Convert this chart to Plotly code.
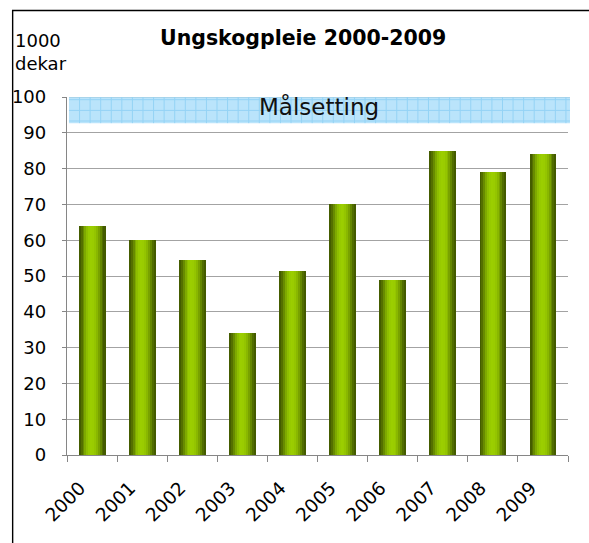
import plotly.graph_objects as go
import numpy as np

years = ["2000", "2001", "2002", "2003", "2004", "2005", "2006", "2007", "2008", "2009"]
values = [64, 60, 54.5, 34, 51.5, 70, 49, 85, 79, 84]
y_ticks = [0, 10, 20, 30, 40, 50, 60, 70, 80, 90, 100]
title_text = "Ungskogpleie 2000-2009"
unit_text = "1000<br>dekar"
target_text = "Målsetting"
target_low, target_high = 92.7, 102.2

W, H = 589, 543
L, R, T, B = 61, 21, 97, 88
PW, PH = W - L - R, H - T - B

def px(x):
    return (x - L) / PW

def py(y):
    return (H - B - y) / PH

def val_at(ypix):
    return (H - B - ypix) / PH * 100

# horizontal gradient across a bar, left to right
grad = ["#445c00", "#546f00", "#688b00", "#7ea900", "#8ebe00", "#97ca00", "#9bce00",
        "#9acc00", "#94c500", "#89b700", "#79a200", "#658800", "#516d00", "#445b00"]
N = len(grad)
BW = 0.53

fig = go.Figure()
for i, c in enumerate(grad):
    fig.add_trace(go.Bar(
        x=years, y=values,
        width=BW / N + 0.004,
        offset=-BW / 2 + i * BW / N,
        marker=dict(color=c, line=dict(width=0)),
        showlegend=False, hoverinfo="skip"))

shapes = []
bx0, bx1 = px(63), px(570)
shapes.append(dict(type="rect", xref="paper", yref="y", x0=bx0, x1=bx1,
                   y0=target_low, y1=target_high, fillcolor="#bae4fb",
                   line=dict(width=0), layer="above"))
shapes.append(dict(type="line", xref="paper", yref="y", x0=bx0, x1=bx1, y0=100, y1=100,
                   line=dict(color="#98c4da", width=1), layer="above"))
for xx in np.arange(63 + 10.7, 570, 10.7):
    shapes.append(dict(type="line", xref="paper", yref="y", x0=px(xx), x1=px(xx),
                       y0=target_low, y1=target_high,
                       line=dict(color="#94d3f5", width=1), layer="above"))
for yy in [99.7, 110.4, 121.0]:
    v = val_at(yy)
    shapes.append(dict(type="line", xref="paper", yref="y", x0=bx0, x1=bx1,
                       y0=v, y1=v, line=dict(color="#94d3f5", width=1), layer="above"))

# outer frame
shapes.append(dict(type="rect", xref="paper", yref="paper",
                   x0=px(6), x1=px(640), y0=py(10.5), y1=py(600),
                   line=dict(color="black", width=1.4), fillcolor="rgba(0,0,0,0)"))

fig.update_layout(
    width=W, height=H,
    margin=dict(l=L, r=R, t=T, b=B),
    paper_bgcolor="white", plot_bgcolor="white",
    barmode="overlay", bargap=0,
    font=dict(family="DejaVu Sans", size=18, color="black"),
    xaxis=dict(type="category", tickangle=-45, showgrid=False,
               showline=True, linecolor="#868686", linewidth=1,
               ticks="outside", tickson="boundaries", ticklen=6, tickcolor="#868686",
               tickfont=dict(size=18.5), range=[-0.5, 9.5],
               ticklabelstandoff=14, ticklabelshift=-12),
    yaxis=dict(range=[0, 100], tickvals=y_ticks, showgrid=True, gridcolor="#a3a3a3",
               gridwidth=1, showline=True, linecolor="#868686", linewidth=1.3,
               ticks="outside", ticklen=4, tickcolor="#868686", zeroline=False,
               ticklabelstandoff=12, tickfont=dict(size=18)),
    shapes=shapes,
)

fig.add_annotation(text=f"<b>{title_text}</b>", xref="paper", yref="paper",
                   x=px(300), y=py(38), showarrow=False, font=dict(size=20.5),
                   xanchor="center", yanchor="middle")
fig.add_annotation(text=unit_text, xref="paper", yref="paper",
                   x=px(6), y=py(28), showarrow=False, font=dict(size=18),
                   xanchor="left", yanchor="top", align="left")
fig.add_annotation(text=target_text, xref="paper", yref="paper",
                   x=px(316), y=py(106), showarrow=False,
                   font=dict(size=23, color="#111111"), xanchor="center", yanchor="middle")

fig.write_html("out.html", config={"displayModeBar": False},
               post_script="document.body.style.margin='0';document.body.style.overflow='hidden';")
